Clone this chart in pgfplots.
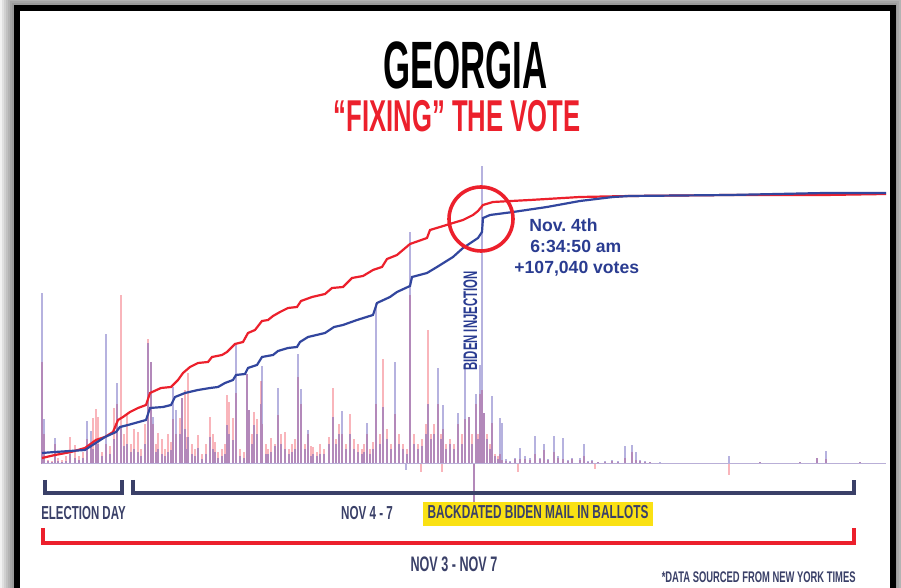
\documentclass[border=0pt]{standalone}
\usepackage{pgfplots}
\pgfplotsset{compat=1.18}
\usepackage{pgfplotstable}
\usepackage{fontspec}
\setmainfont{Liberation Sans}
\usepackage{graphicx}

\definecolor{gared}{RGB}{236,32,44}
\definecolor{gablue}{RGB}{50,70,158}
\definecolor{spred}{RGB}{242,70,85}
\definecolor{spblue}{RGB}{95,85,185}
\definecolor{txtblue}{RGB}{42,60,145}
\definecolor{navy}{RGB}{58,64,104}
\definecolor{hilite}{RGB}{250,225,20}
\definecolor{basel}{RGB}{185,175,215}

% vote batches: x position, red (Trump) and blue (Biden) batch size, px units
\pgfplotstableread{
px r b
42 102 171
44 30 45
48 4 3
52 3 2
55 20 26
58 6 3
62 4 2
66 8 3
70 27 10
75 19 6
79 8 4
83 12 6
87 25 43
91 20 33
93 46 15
96 55 22
98 47 20
102 12 8
106 20 130
110 18 10
114 56 25
117 60 81
121 169 37
124 30 18
127 51 20
131 20 12
134 35 15
138 32 12
141 15 8
145 40 20
148 125 121
151 102 102
153 40 47
156 20 12
158 31 15
162 25 10
165 15 8
168 30 12
171 22 14
173 45 77
176 30 54
180 46 30
182 66 66
185 74 35
186 27 15
188 91 27
192 20 10
195 15 8
198 29 16
202 10 5
206 20 10
210 47 27
213 30 15
215 22 12
218 12 6
222 15 8
225 20 10
227 69 39
229 62 30
233 46 24
236 71 119
240 15 8
244 12 6
247 90 90
249 54 54
252 30 20
254 52 39
257 45 30
261 83 60
262 40 98
266 20 10
268 15 10
271 26 12
275 20 18
278 49 76
281 30 20
285 32 15
289 15 10
292 20 12
295 25 15
298 87 110
301 60 75
305 20 15
308 30 34
311 18 8
313 17 10
317 12 8
320 20 10
324 15 10
329 27 20
333 76 47
336 25 20
339 40 30
342 30 53
346 20 15
350 50 30
354 25 15
358 20 12
362 15 10
364 20 12
367 30 41
370 15 10
373 22 15
376 60 161
380 30 20
383 105 57
387 35 25
391 20 15
395 50 102
399 30 20
403 20 15
406 0 -6
407 15 10
410 169 232
414 30 20
418 20 15
421 -8 0
422 25 18
426 40 30
428 134 60
431 30 25
434 40 30
438 60 96
441 30 25
442 -8 0
443 35 59
446 20 15
450 25 20
454 20 15
458 40 51
462 30 20
465 45 99
469 47 47
472 30 20
474 -38 -38
476 60 70
478 30 25
480 70 99
482 74 298
484 51 51
487 30 25
490 20 15
492 41 68
495 10 8
498 8 5
500 10 46
502 4 41
506 3 5
510 2 3
515 5 6
518 -8 0
520 5 16
525 5 8
530 4 6
535 10 28
540 5 6
544 14 20
548 4 5
554 12 28
558 6 8
563 5 26
568 3 4
572 5 6
580 4 6
584 8 20
588 2 3
592 3 4
595 -5 0
598 2 2
605 2 3
612 3 4
618 2 3
625 6 18
632 12 19
636 4 12
640 3 4
645 2 3
650 2 2
660 1 2
680 1 1
700 1 1
729 -11 8
760 2 2
780 1 1
800 2 2
817 6 6
826 5 13
840 1 1
860 2 2
880 1 1
}\spikes

\newcommand{\cond}[3]{\scalebox{#1}[1]{\fontsize{#2}{#2}\selectfont\bfseries #3}}

\begin{document}
\begin{tikzpicture}
\useasboundingbox (0,0) rectangle (450.5pt,294pt);
\begin{scope}[yshift=294pt,x=0.5pt,y=-0.5pt]
  \fill[gray!10] (0,0) rectangle (901,588);
  \foreach \i in {0,...,6} {
    \fill[black,opacity=0.07] ({14-2*\i},{5-2*\i}) rectangle ({895+2*\i},600);
  }
  \fill[white] (17,8) rectangle (892.5,600);
  \draw[line width=3pt] (17,600) -- (17,8) -- (892.5,8) -- (892.5,600);
\end{scope}

\begin{axis}[
    at={(21pt,62pt)}, anchor=south west,
    scale only axis, width=422pt, height=135.5pt,
    xmin=42, xmax=886, ymin=0, ymax=271,
    hide axis, clip=false,
  ]
  \addplot[ycomb, mark=none, spred, opacity=0.4, line width=0.8pt] table[x=px,y=r] {\spikes};
  \addplot[ycomb, mark=none, spblue, opacity=0.45, line width=0.8pt] table[x=px,y=b] {\spikes};
  \addplot[basel, line width=0.5pt] coordinates {(42,0) (886,0)};
  % Trump cumulative
  \addplot[gared, line width=1.1pt] coordinates {
    (42,6) (55,9) (71,12) (85,16) (96,24) (105,27) (113,32) (118,44) (123,47)
    (130,52) (138,56) (146,59) (150,71) (161,76) (171,77) (178,84) (183,91)
    (190,97) (198,101) (208,102) (212,107) (222,109) (227,112) (235,120)
    (243,122) (248,131) (255,134) (262,143) (268,144) (273,148) (280,152)
    (288,156) (297,157) (301,163) (312,167) (325,170) (332,176) (343,177)
    (352,186) (363,188) (373,194) (382,197) (387,205) (397,209) (410,220)
    (427,226) (430,234) (440,237) (453,241) (463,244) (473,249) (478,253)
    (483,259) (493,262) (530,264) (580,267) (630,268) (730,269) (825,269) (886,270)
  };
  % Biden cumulative
  \addplot[gablue, line width=1.1pt] coordinates {
    (42,11) (55,12) (85,14) (88,16) (105,27) (116,32) (120,37) (128,39)
    (146,44) (150,56) (163,57) (171,59) (175,67) (185,71) (198,74) (210,76)
    (218,77) (225,81) (233,84) (236,89) (245,90) (248,96) (257,99) (262,107)
    (273,109) (278,113) (288,116) (297,117) (300,122) (308,127) (325,131)
    (334,137) (343,139) (357,144) (373,149) (377,161) (390,167) (397,172)
    (410,178) (412,187) (427,191) (437,197) (453,207) (463,216) (472,222)
    (478,226) (482,232) (483,246) (490,249) (513,252) (547,257) (580,263)
    (613,267) (630,268) (730,269) (825,271) (886,271)
  };
  \draw[gared, line width=1.8pt] (axis cs:481,245) circle [radius=16pt];
\end{axis}

\begin{scope}[yshift=294pt,x=0.5pt,y=-0.5pt]
  \node[anchor=base, inner sep=0, text=black] at (465.5,89) {\cond{0.52}{33.5}{GEORGIA}};
  \node[anchor=base, inner sep=0, text=gared] at (457,132) {\cond{0.575}{22.3}{“FIXING” THE VOTE}};

  \node[rotate=90, anchor=base, inner sep=0, text=txtblue] at (477,321) {\cond{0.58}{9.8}{BIDEN INJECTION}};
  \begin{scope}[every node/.style={anchor=base west, inner sep=0, text=txtblue, font=\fontsize{8.8}{10}\selectfont\bfseries}]
    \node at (529,232) {Nov.\ 4th};
    \node at (530,253) {6:34:50 am};
    \node at (514,274) {+107,040 votes};
  \end{scope}

  \draw[navy, line width=2pt] (45,480) -- (45,493) -- (122,493) -- (122,480);
  \draw[navy, line width=2pt] (133,480) -- (133,493) -- (854,493) -- (854,480);
  \draw[gared, line width=2pt] (43,528) -- (43,543) -- (854,543) -- (854,528);

  \fill[hilite] (423,502) rectangle (653,526);
  \node[anchor=base, inner sep=0, text=navy] at (83.5,520) {\cond{0.61}{9.4}{ELECTION DAY}};
  \node[anchor=base, inner sep=0, text=navy] at (367,520) {\cond{0.62}{9.4}{NOV 4 - 7}};
  \node[anchor=base, inner sep=0, text=navy] at (538,519) {\cond{0.63}{9.4}{BACKDATED BIDEN MAIL IN BALLOTS}};
  \node[anchor=base, inner sep=0, text=navy] at (454,572) {\cond{0.6}{10.5}{NOV 3 - NOV 7}};
  \node[anchor=base east, inner sep=0, text=navy] at (856,583) {\cond{0.61}{7.7}{*DATA SOURCED FROM NEW YORK TIMES}};
\end{scope}
\end{tikzpicture}
\end{document}
